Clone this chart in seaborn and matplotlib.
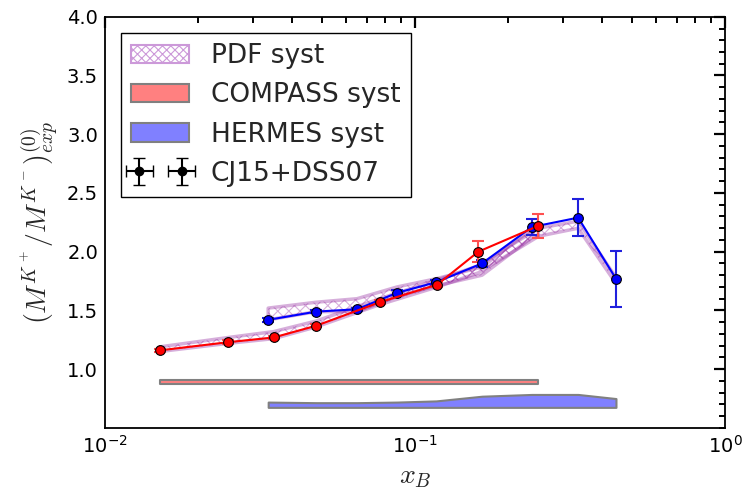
import numpy as np
import pandas as pd
import matplotlib
matplotlib.use('Agg')
import matplotlib.pyplot as plt
import matplotlib.patches as mpatches
from matplotlib.ticker import MultipleLocator, FixedLocator
import seaborn as sns

# COMPASS kinematics (red)
x_compass = [0.015, 0.025, 0.035, 0.048, 0.077, 0.118, 0.16, 0.25]
y_compass = [1.16, 1.23, 1.27, 1.37, 1.57, 1.72, 2.00, 2.22]
err_compass = [0.015, 0.015, 0.015, 0.015, 0.015, 0.02, 0.09, 0.10]
pdf_lo_compass = [1.15, 1.22, 1.26, 1.36, 1.55, 1.70, 1.82, 2.13]
pdf_hi_compass = [1.19, 1.27, 1.32, 1.41, 1.60, 1.76, 1.88, 2.20]
syst_lo_compass = [0.875] * 8
syst_hi_compass = [0.905] * 8

# HERMES kinematics (blue)
x_hermes = [0.0336, 0.048, 0.065, 0.0875, 0.117, 0.1645, 0.238, 0.336, 0.445]
y_hermes = [1.42, 1.49, 1.51, 1.65, 1.74, 1.90, 2.21, 2.29, 1.77]
err_hermes = [0.015, 0.015, 0.015, 0.02, 0.02, 0.03, 0.065, 0.155, 0.24]
pdf_lo_hermes = [1.42, 1.49, 1.49, 1.62, 1.71, 1.80, 2.12, 2.20, 1.73]
pdf_hi_hermes = [1.52, 1.57, 1.60, 1.70, 1.77, 1.87, 2.19, 2.26, 1.78]
syst_lo_hermes = [0.675] * 9
syst_hi_hermes = [0.72, 0.715, 0.715, 0.72, 0.73, 0.77, 0.785, 0.785, 0.75]

sns.set_style('white')
plt.rcParams['font.family'] = ['DejaVu Sans']
plt.rcParams['hatch.linewidth'] = 0.8

fig = plt.figure(figsize=(7.46, 4.93), dpi=100)
ax = fig.add_axes([0.1408, 0.132, 0.831, 0.834])
ax.set_xscale('log')

pdf_col = (0.55, 0.1, 0.6)
for xs, lo, hi in [(x_compass, pdf_lo_compass, pdf_hi_compass),
                   (x_hermes, pdf_lo_hermes, pdf_hi_hermes)]:
    ax.fill_between(xs, lo, hi, facecolor='none', edgecolor=pdf_col,
                    hatch='xxx', alpha=0.35, lw=2.5, zorder=1)

ax.fill_between(x_compass, syst_lo_compass, syst_hi_compass,
                facecolor='#ff8080', edgecolor='gray', lw=1.5, zorder=1)
ax.fill_between(x_hermes, syst_lo_hermes, syst_hi_hermes,
                facecolor='#8080ff', edgecolor='gray', lw=1.5, zorder=1)

df_c = pd.DataFrame({'x': x_compass, 'y': y_compass})
df_h = pd.DataFrame({'x': x_hermes, 'y': y_hermes})

ax.errorbar(x_hermes, y_hermes, yerr=err_hermes, fmt='none',
            ecolor='#2020dd', capsize=4, elinewidth=1.5, capthick=1.5, zorder=2)
ax.errorbar(x_compass, y_compass, yerr=err_compass, fmt='none',
            ecolor='#ff5050', capsize=4, elinewidth=1.5, capthick=1.5, zorder=2)
sns.lineplot(data=df_h, x='x', y='y', ax=ax, color='blue', lw=1.5,
             marker='o', markersize=7, markeredgecolor='k', markeredgewidth=0.8,
             zorder=3)
sns.lineplot(data=df_c, x='x', y='y', ax=ax, color='red', lw=1.5,
             marker='o', markersize=7, markeredgecolor='k', markeredgewidth=0.8,
             zorder=3)

ax.set_xlim(0.01, 1.0)
ax.set_ylim(0.5, 4.0)
ax.yaxis.set_major_locator(FixedLocator([1.0, 1.5, 2.0, 2.5, 3.0, 3.5, 4.0]))
ax.yaxis.set_minor_locator(MultipleLocator(0.1))
ax.tick_params(which='both', direction='in', top=True, right=True,
               labelsize=14, colors='k')
ax.tick_params(which='major', length=8, width=1.6, pad=5)
ax.tick_params(which='minor', length=4, width=1.4)
for s in ax.spines.values():
    s.set_color('k')
    s.set_linewidth(1.3)

ax.set_xlabel(r'$x_B$', fontsize=20, math_fontfamily='cm')
ax.set_ylabel(r'$(M^{K^+}/M^{K^-})^{(0)}_{exp}$', fontsize=20,
              math_fontfamily='cm')

h_pdf = mpatches.Patch(facecolor='white', edgecolor=(0.8, 0.6, 0.85),
                       hatch='xxxx', lw=1.5)
h_c = mpatches.Patch(facecolor='#ff8080', edgecolor='gray', lw=1.5)
h_h = mpatches.Patch(facecolor='#8080ff', edgecolor='gray', lw=1.5)
h_cj = ax.errorbar([np.nan], [np.nan], xerr=[1], yerr=[1], fmt='ko',
                   capsize=4, markersize=6)
leg = ax.legend([h_pdf, h_c, h_h, h_cj],
                ['PDF syst', 'COMPASS syst', 'HERMES syst', 'CJ15+DSS07'],
                loc='upper left', fontsize=19, numpoints=2, fancybox=False,
                framealpha=1, edgecolor='k', handlelength=2.2,
                borderaxespad=0.6)
leg.get_frame().set_linewidth(1.0)

fig.savefig('out.png', dpi=100)
